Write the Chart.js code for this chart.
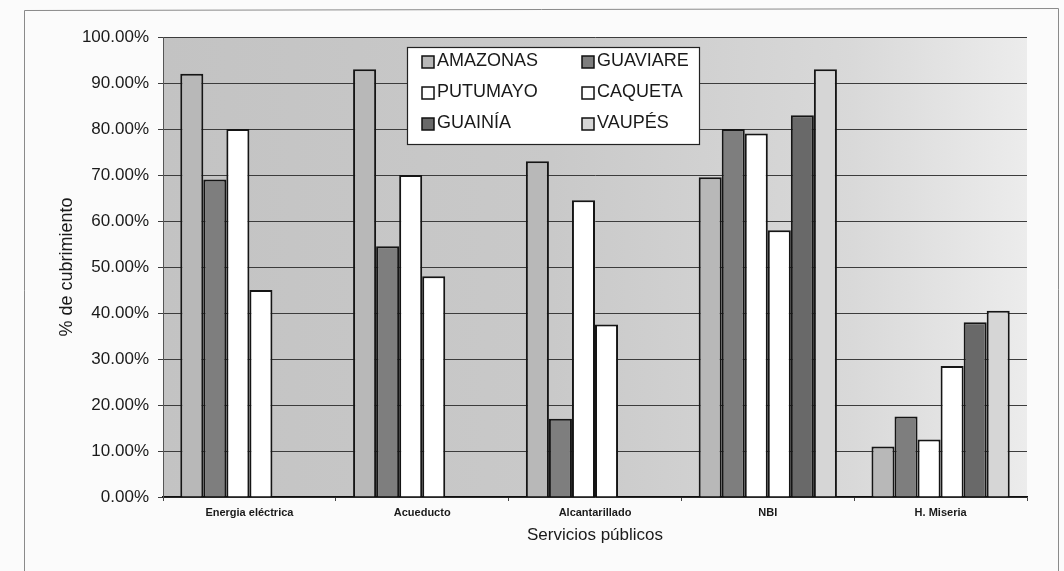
<!DOCTYPE html>
<html>
<head>
<meta charset="utf-8">
<script src="https://cdn.jsdelivr.net/npm/chart.js@4/dist/chart.umd.min.js"></script>
<style>
    html, body { margin: 0; padding: 0; background: #fbfbfb; }
    #wrap { width: 1064px; height: 571px; }
</style>
</head>
<body>
<div id="wrap"><canvas id="myChart" width="1064" height="571"></canvas></div>
<script>
// Data

const categories = ["Energia eléctrica", "Acueducto", "Alcantarillado", "NBI", "H. Miseria"];
const yTicks = [0, 10, 20, 30, 40, 50, 60, 70, 80, 90, 100];

const amazonas = [92, 93, 73, 69.5, 11];
const guaviare = [69, 54.5, 17, 80, 17.5];
const putumayo = [80, 70, 64.5, 79, 12.5];
const caqueta = [45, 48, 37.5, 58, 28.5];
const guainia = [null, null, null, 83, 38];
const vaupes = [null, null, null, 93, 40.5];

const seriesNames = ["AMAZONAS", "GUAVIARE", "PUTUMAYO", "CAQUETA", "GUAINÍA", "VAUPÉS"];
const seriesValues = [amazonas, guaviare, putumayo, caqueta, guainia, vaupes];
const seriesColors = ["#b8b8b8", "#7e7e7e", "#ffffff", "#ffffff", "#696969", "#d6d6d6"];

const FONT = "'Liberation Sans', Arial, sans-serif";

// Setup

const data = {
    labels: categories,
    datasets: seriesNames.map((name, i) => ({
        label: name,
        data: seriesValues[i],
        backgroundColor: seriesColors[i],
        borderColor: "#151515",
        borderWidth: 2,
        borderSkipped: "bottom",
        categoryPercentage: 0.8,
        barPercentage: 1.0
    }))
};

// plot background (gray, lighter toward the right) and page frame
const backdrop = {
    id: "backdrop",
    beforeDraw(chart) {
        const { ctx, chartArea: a } = chart;
        ctx.save();
        ctx.fillStyle = "#fbfbfb";
        ctx.fillRect(0, 0, chart.width, chart.height);
        ctx.strokeStyle = "#8a8a8a";
        ctx.lineWidth = 1;
        ctx.beginPath();
        ctx.moveTo(24.5, 571);
        ctx.lineTo(24.5, 10.5);
        ctx.lineTo(1058.5, 8.5);
        ctx.lineTo(1058.5, 571);
        ctx.stroke();
        const g = ctx.createLinearGradient(a.left, 0, a.right, 0);
        g.addColorStop(0, "#c3c3c3");
        g.addColorStop(0.45, "#c9c9c9");
        g.addColorStop(0.8, "#d9d9d9");
        g.addColorStop(1, "#ececec");
        ctx.fillStyle = g;
        ctx.fillRect(a.left, a.top, a.right - a.left, a.bottom - a.top);
        ctx.restore();
    }
};

// boxed two-column legend inside the plot
const boxLegend = {
    id: "boxLegend",
    afterDraw(chart) {
        const { ctx, chartArea: a } = chart;
        const x0 = a.left + 244, y0 = a.top + 10, w = 292, h = 97;
        ctx.save();
        ctx.fillStyle = "#ffffff";
        ctx.fillRect(x0, y0, w, h);
        ctx.strokeStyle = "#222";
        ctx.lineWidth = 1.2;
        ctx.strokeRect(x0 + 0.5, y0 + 0.5, w, h);
        ctx.font = "18px " + FONT;
        ctx.textBaseline = "middle";
        chart.data.datasets.forEach((ds, i) => {
            const col = i % 2, row = Math.floor(i / 2);
            const sx = x0 + 15 + col * 160;
            const cy = y0 + 14 + row * 31;
            ctx.fillStyle = ds.backgroundColor;
            ctx.fillRect(sx, cy - 5, 12, 12);
            ctx.strokeStyle = "#111";
            ctx.lineWidth = 1.5;
            ctx.strokeRect(sx, cy - 5, 12, 12);
            ctx.fillStyle = "#1a1a1a";
            ctx.fillText(ds.label, sx + 15, cy);
        });
        ctx.restore();
    }
};

// Config

const config = {
    type: "bar",
    data,
    options: {
        responsive: false,
        animation: false,
        layout: {
            padding: { left: 40, right: 37, top: 37, bottom: 20 }
        },
        plugins: {
            legend: { display: false },
            tooltip: { enabled: false }
        },
        scales: {
            x: {
                afterFit: (scale) => { scale.height = 54; },
                grid: {
                    offset: true,
                    drawOnChartArea: false,
                    tickLength: 4,
                    color: "#444"
                },
                border: { color: "#111", width: 1.5 },
                ticks: {
                    color: "#1a1a1a",
                    padding: 5,
                    font: { family: FONT, size: 11, weight: "bold" }
                },
                title: {
                    display: true,
                    text: "Servicios públicos",
                    color: "#1a1a1a",
                    padding: { top: 0, bottom: 5 },
                    font: { family: FONT, size: 17 }
                }
            },
            y: {
                min: 0,
                max: 100,
                afterFit: (scale) => { scale.width = 123; },
                afterBuildTicks: (scale) => {
                    scale.ticks = yTicks.map((v) => ({ value: v }));
                },
                grid: {
                    color: "#3c3c3c",
                    lineWidth: 1,
                    tickLength: 5
                },
                border: { color: "#555", width: 1 },
                ticks: {
                    color: "#1a1a1a",
                    padding: 9,
                    font: { family: FONT, size: 17 },
                    callback: (v) => Number(v).toFixed(2) + "%"
                },
                title: {
                    display: true,
                    text: "% de cubrimiento",
                    color: "#1a1a1a",
                    padding: { top: 16, bottom: 0 },
                    font: { family: FONT, size: 18 }
                }
            }
        }
    },
    plugins: [backdrop, boxLegend]
};

// Render init block

const myChart = new Chart(document.getElementById("myChart"), config);
</script>
</body>
</html>
